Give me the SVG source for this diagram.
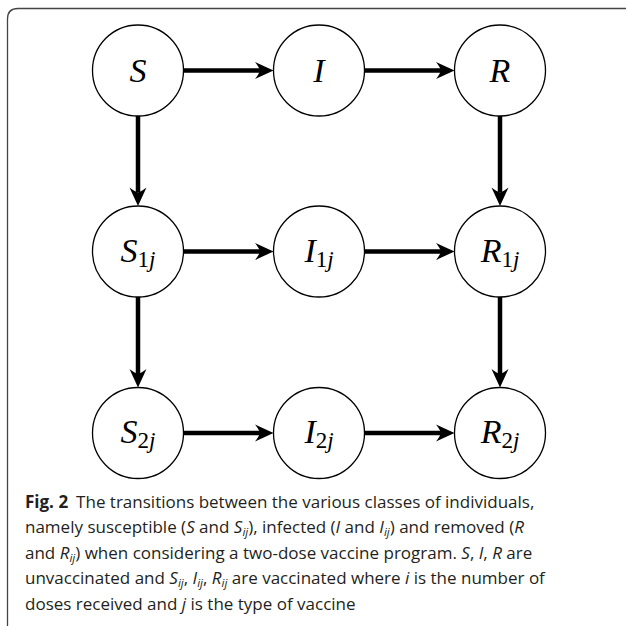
<svg xmlns="http://www.w3.org/2000/svg" width="627" height="626" viewBox="0 0 627 626">
<style>
.node circle{fill:#fff;stroke:#000;stroke-width:1.3}
.node text{font-family:"Liberation Serif","DejaVu Serif",serif;font-size:34px;text-anchor:middle;fill:#000}
.it{font-style:italic}
.sub{font-size:23px}
.conn line{stroke:#000;stroke-width:4.5;fill:none}
.cap{font-family:"Open Sans","Noto Sans",sans-serif;font-size:17px;fill:#231f20}
.cap .b{font-weight:bold}
.cap .s{font-size:11.5px}
</style>
<defs>
<marker id="ah" markerUnits="userSpaceOnUse" orient="auto" markerWidth="26" markerHeight="26" viewBox="-8 -13 26 26" refX="0" refY="0" overflow="visible">
<path d="M13.5,0 L-5,-8.5 Q-1,-3.5 0,0 Q-1,3.5 -5,8.5 Z" fill="#000"/>
</marker>
</defs>
<path d="M626,8.5 H18 Q7.5,8.5 7.5,19 V626" fill="none" stroke="#444" stroke-width="1.3"/>
<g class="conn">
<line x1="183.5" y1="70.5" x2="260" y2="70.5" marker-end="url(#ah)"/>
<line x1="364.5" y1="70.5" x2="441" y2="70.5" marker-end="url(#ah)"/>
<line x1="183.5" y1="251.5" x2="260" y2="251.5" marker-end="url(#ah)"/>
<line x1="364.5" y1="251.5" x2="441" y2="251.5" marker-end="url(#ah)"/>
<line x1="183.5" y1="433" x2="260" y2="433" marker-end="url(#ah)"/>
<line x1="364.5" y1="433" x2="441" y2="433" marker-end="url(#ah)"/>
<line x1="138" y1="116" x2="138" y2="192.5" marker-end="url(#ah)"/>
<line x1="138" y1="297" x2="138" y2="374" marker-end="url(#ah)"/>
<line x1="500" y1="116" x2="500" y2="192.5" marker-end="url(#ah)"/>
<line x1="500" y1="297" x2="500" y2="374" marker-end="url(#ah)"/>
</g>
<g id="S" class="node"><circle cx="138" cy="70.5" r="45.5"/><text x="138" y="82" class="it">S</text></g>
<g id="I" class="node"><circle cx="319" cy="70.5" r="45.5"/><text x="319" y="82" class="it">I</text></g>
<g id="R" class="node"><circle cx="500" cy="70.5" r="45.5"/><text x="500" y="82" class="it">R</text></g>
<g id="S1j" class="node"><circle cx="138" cy="251.5" r="45.5"/><text x="138" y="261.5"><tspan class="it">S</tspan><tspan class="sub" dy="5">1</tspan><tspan class="sub it">j</tspan></text></g>
<g id="I1j" class="node"><circle cx="319" cy="251.5" r="45.5"/><text x="319" y="261.5"><tspan class="it">I</tspan><tspan class="sub" dy="5">1</tspan><tspan class="sub it">j</tspan></text></g>
<g id="R1j" class="node"><circle cx="500" cy="251.5" r="45.5"/><text x="500" y="261.5"><tspan class="it">R</tspan><tspan class="sub" dy="5">1</tspan><tspan class="sub it">j</tspan></text></g>
<g id="S2j" class="node"><circle cx="138" cy="433" r="45.5"/><text x="138" y="443"><tspan class="it">S</tspan><tspan class="sub" dy="5">2</tspan><tspan class="sub it">j</tspan></text></g>
<g id="I2j" class="node"><circle cx="319" cy="433" r="45.5"/><text x="319" y="443"><tspan class="it">I</tspan><tspan class="sub" dy="5">2</tspan><tspan class="sub it">j</tspan></text></g>
<g id="R2j" class="node"><circle cx="500" cy="433" r="45.5"/><text x="500" y="443"><tspan class="it">R</tspan><tspan class="sub" dy="5">2</tspan><tspan class="sub it">j</tspan></text></g>
<g id="caption" class="cap">
<text x="25" y="507.5"><tspan class="b">Fig. 2</tspan><tspan dx="8">The transitions between the various classes of individuals,</tspan></text>
<text x="25" y="533">namely susceptible (<tspan class="it">S</tspan> and <tspan class="it">S</tspan><tspan class="s it" dy="3">ij</tspan><tspan dy="-3">), infected (</tspan><tspan class="it">I</tspan> and <tspan class="it">I</tspan><tspan class="s it" dy="3">ij</tspan><tspan dy="-3">) and removed (</tspan><tspan class="it">R</tspan></text>
<text x="25" y="558.5">and <tspan class="it">R</tspan><tspan class="s it" dy="3">ij</tspan><tspan dy="-3">) when considering a two-dose vaccine program. </tspan><tspan class="it">S</tspan>, <tspan class="it">I</tspan>, <tspan class="it">R</tspan> are</text>
<text x="25" y="584">unvaccinated and <tspan class="it">S</tspan><tspan class="s it" dy="3">ij</tspan><tspan dy="-3">, </tspan><tspan class="it">I</tspan><tspan class="s it" dy="3">ij</tspan><tspan dy="-3">, </tspan><tspan class="it">R</tspan><tspan class="s it" dy="3">ij</tspan><tspan dy="-3"> are vaccinated where </tspan><tspan class="it">i</tspan> is the number of</text>
<text x="25" y="609.5">doses received and <tspan class="it">j</tspan> is the type of vaccine</text>
</g>
</svg>
